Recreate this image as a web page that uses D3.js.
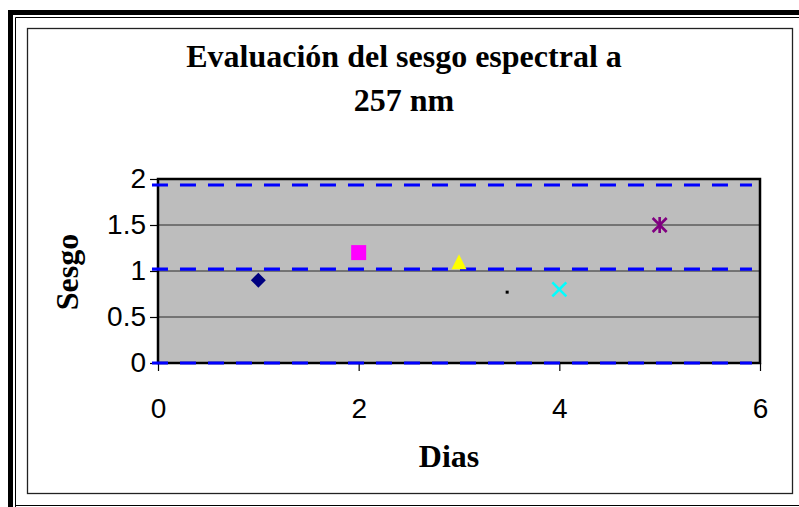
<!DOCTYPE html>
<html>
<head>
<meta charset="utf-8">
<script src="https://cdnjs.cloudflare.com/ajax/libs/d3/7.8.5/d3.min.js"></script>
<style>
  body { margin: 0; background: #fff; }
  .tick text { font-family: "Liberation Sans", Arial, sans-serif; font-size: 28px; fill: #000; }
  .tick line { stroke: #000; stroke-width: 1.2; }
  .ttl { font-family: "Liberation Serif", "Times New Roman", serif; font-weight: bold; font-size: 32px; fill: #000; }
</style>
</head>
<body>
<div id="chart"></div>
<script>
// data
const dias  = [1, 2, 3, 3.48, 4, 5];
const sesgo = [0.9, 1.2, 1.1, 0.77, 0.8, 1.5];
const markers = ["diamond", "square", "triangle", "dot", "x", "star"];
const colors  = ["#000080", "#ff00ff", "#ffff00", "#000000", "#00ffff", "#800080"];

const limits = [0, 1.02, 1.935];      // blue dashed lines
const limitX = [-0.06, 5.92];

const xTicks = [0, 2, 4, 6];
const yTicks = [0, 0.5, 1, 1.5, 2];
const gridY  = [0.5, 1, 1.5];

const W = 799, H = 507;

const svg = d3.select("#chart").append("svg")
  .attr("width", W).attr("height", H);

svg.append("rect").attr("width", W).attr("height", H).attr("fill", "#fff");

// outer frame (thick + thin), cut at right
svg.append("path").attr("d", "M10.5,507 V12.5 H799").attr("fill", "none")
  .attr("stroke", "#000").attr("stroke-width", 5);
svg.append("path").attr("d", "M15.5,507 V17.5 H799").attr("fill", "none")
  .attr("stroke", "#000").attr("stroke-width", 1);
svg.append("line").attr("x1", 15).attr("x2", 799).attr("y1", 505.5).attr("y2", 505.5)
  .attr("stroke", "#000").attr("stroke-width", 1);

// chart area border
svg.append("rect").attr("x", 27.5).attr("y", 28.5).attr("width", 765).attr("height", 465)
  .attr("fill", "none").attr("stroke", "#222").attr("stroke-width", 1.3);

const x = d3.scaleLinear().domain([0, 6]).range([158, 760]);
const y = d3.scaleLinear().domain([0, 2]).range([363, 179]);

// plot area
svg.append("rect")
  .attr("x", x(0)).attr("y", y(2))
  .attr("width", x(6) - x(0)).attr("height", y(0) - y(2))
  .attr("fill", "#bdbdbd");

svg.selectAll(".grid").data(gridY).enter().append("line")
  .attr("class", "grid")
  .attr("x1", x(0)).attr("x2", x(6))
  .attr("y1", d => y(d)).attr("y2", d => y(d))
  .attr("stroke", "#2a2a2a").attr("stroke-width", 1);

svg.append("rect")
  .attr("x", x(0)).attr("y", y(2))
  .attr("width", x(6) - x(0)).attr("height", y(0) - y(2))
  .attr("fill", "none").attr("stroke", "#000").attr("stroke-width", 2.5);

// axes
const xAxis = d3.axisBottom(x).tickValues(xTicks).tickSize(8).tickPadding(27)
  .tickFormat(d3.format("d"));
svg.append("g").attr("transform", "translate(0," + y(0) + ")").call(xAxis)
  .call(g => g.select(".domain").remove());

const yAxis = d3.axisLeft(y).tickValues(yTicks).tickSize(8).tickPadding(4)
  .tickFormat(d => String(d));
svg.append("g").attr("transform", "translate(" + x(0) + ",0)").call(yAxis)
  .call(g => g.select(".domain").remove());

// limit lines
svg.selectAll(".lim").data(limits).enter().append("line")
  .attr("class", "lim")
  .attr("x1", x(limitX[0])).attr("x2", x(limitX[1]))
  .attr("y1", d => y(d)).attr("y2", d => y(d))
  .attr("stroke", "#0000ff").attr("stroke-width", 3.2)
  .attr("stroke-dasharray", "16,12");

// markers
function markerPath(kind) {
  const p = d3.path();
  const r = 7.5;
  if (kind === "diamond") {
    p.moveTo(0, -r); p.lineTo(r, 0); p.lineTo(0, r); p.lineTo(-r, 0); p.closePath();
  } else if (kind === "square") {
    p.rect(-7.5, -7.5, 15, 15);
  } else if (kind === "triangle") {
    p.moveTo(0, -r); p.lineTo(r, r); p.lineTo(-r, r); p.closePath();
  } else if (kind === "dot") {
    p.rect(-1.5, -1.5, 3, 3);
  } else if (kind === "x") {
    p.moveTo(-7, -7); p.lineTo(7, 7); p.moveTo(-7, 7); p.lineTo(7, -7);
  } else if (kind === "star") {
    p.moveTo(-7, -7); p.lineTo(7, 7); p.moveTo(-7, 7); p.lineTo(7, -7);
    p.moveTo(0, -8); p.lineTo(0, 8);
  }
  return p.toString();
}

svg.selectAll(".pt").data(dias).enter().append("path")
  .attr("class", "pt")
  .attr("transform", (d, i) => "translate(" + x(d) + "," + y(sesgo[i]) + ")")
  .attr("d", (d, i) => markerPath(markers[i]))
  .attr("fill", (d, i) => (markers[i] === "x" || markers[i] === "star") ? "none" : colors[i])
  .attr("stroke", (d, i) => (markers[i] === "x" || markers[i] === "star") ? colors[i] : "none")
  .attr("stroke-width", 2.6);

// titles
const title = svg.append("text").attr("class", "ttl").attr("text-anchor", "middle");
title.append("tspan").attr("x", 404).attr("y", 67).text("Evaluación del sesgo espectral a");
title.append("tspan").attr("x", 404).attr("y", 111).text("257 nm");

svg.append("text").attr("class", "ttl").attr("text-anchor", "middle")
  .attr("x", 449).attr("y", 467).text("Dias");

svg.append("text").attr("class", "ttl").attr("text-anchor", "middle")
  .attr("transform", "translate(78,272) rotate(-90)").text("Sesgo");
</script>
</body>
</html>
